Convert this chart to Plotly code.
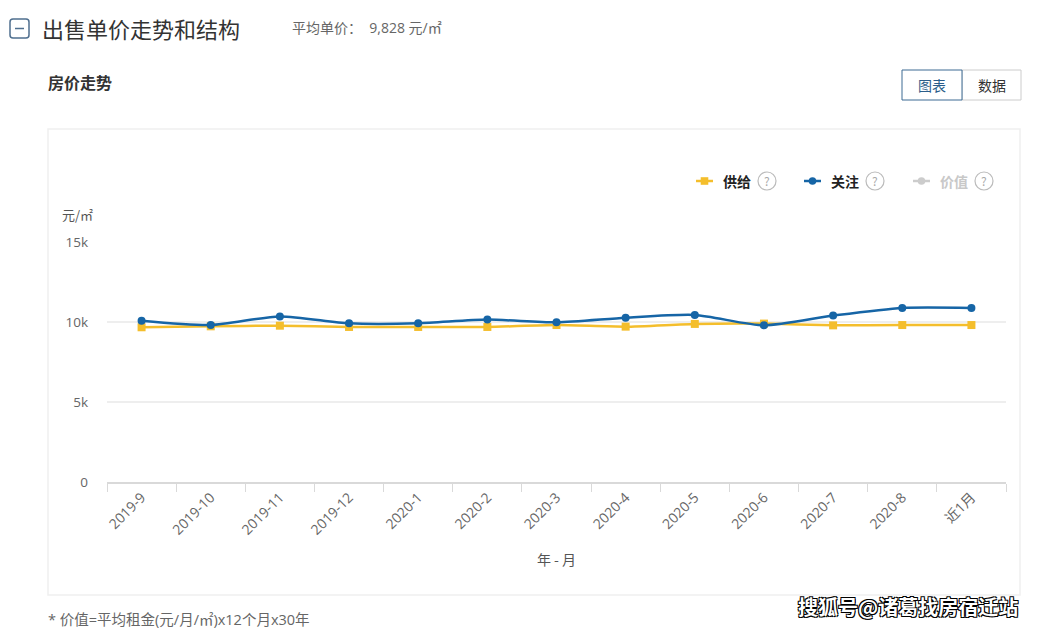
import plotly.graph_objects as go

months = ["2019-9", "2019-10", "2019-11", "2019-12", "2020-1", "2020-2", "2020-3",
          "2020-4", "2020-5", "2020-6", "2020-7", "2020-8", "近1月"]
supply = [9670, 9730, 9770, 9690, 9690, 9690, 9810, 9710, 9880, 9900, 9790, 9810, 9810]
attention = [10080, 9810, 10350, 9920, 9920, 10150, 9980, 10270, 10440, 9790, 10400, 10880, 10880]
series_names = ["供给", "关注", "价值"]
y_ticks = [0, 5000, 10000, 15000]
y_tick_text = ["0", "5k", "10k", "15k"]

W, H = 1041, 628
L, R, T, B = 107, 1006, 242, 482
FONT = "Noto Sans CJK SC, Noto Sans, sans-serif"
LFONT = "Open Sans, Noto Sans CJK SC, sans-serif"
YELLOW = "#F4BE2C"
BLUE = "#1665A6"
GRAY = "#cccccc"


def px(x):
    return (x - L) / (R - L)


def py(y):
    return (B - y) / (B - T)


fig = go.Figure()
fig.add_trace(go.Scatter(x=months, y=supply, name=series_names[0], mode="lines+markers",
                         line=dict(color=YELLOW, width=2.5, shape="spline", smoothing=0.6),
                         marker=dict(symbol="square", size=8, color=YELLOW)))
fig.add_trace(go.Scatter(x=months, y=attention, name=series_names[1], mode="lines+markers",
                         line=dict(color=BLUE, width=2.5, shape="spline", smoothing=0.7),
                         marker=dict(symbol="circle", size=8, color=BLUE)))

fig.update_layout(
    width=W, height=H,
    margin=dict(l=L, r=W - R, t=T, b=H - B),
    paper_bgcolor="white", plot_bgcolor="white",
    font=dict(family=FONT, color="#666", size=12),
    showlegend=False,
    xaxis=dict(type="category", categoryorder="array", categoryarray=months,
               showgrid=False, showline=True, linecolor="#d9d9d9", linewidth=1.5,
               ticks="outside", tickson="boundaries", ticklen=8, tickcolor="#d9d9d9",
               tickangle=-45, tickfont=dict(family=LFONT, size=14, color="#666"),
               title=dict(text="年 - 月", standoff=18, font=dict(size=14, color="#555")),
               range=[-0.5, len(months) - 0.5], fixedrange=True),
    yaxis=dict(range=[0, 15000], tickvals=y_ticks, ticktext=y_tick_text,
               showgrid=True, gridcolor="#eeeeee", gridwidth=1.5, zeroline=False,
               showline=False, ticks="", ticklabelstandoff=18,
               tickfont=dict(family=LFONT, size=13.5, color="#666"), fixedrange=True),
)

annotations = [
    dict(x=px(40), y=py(28), text="出售单价走势和结构", xanchor="left", yanchor="middle",
         font=dict(size=22, color="#333")),
    dict(x=px(290), y=py(27), text="平均单价：  9,828 元/㎡", xanchor="left", yanchor="middle",
         font=dict(family=LFONT, size=14, color="#666")),
    dict(x=px(46), y=py(82), text="<b>房价走势</b>", xanchor="left", yanchor="middle",
         font=dict(size=16, color="#333")),
    dict(x=px(932), y=py(85), text="图表", xanchor="center", yanchor="middle",
         font=dict(size=14, color="#2a5d8a")),
    dict(x=px(991.5), y=py(85), text="数据", xanchor="center", yanchor="middle",
         font=dict(size=14, color="#333")),
    dict(x=px(60), y=py(214), text="元/㎡", xanchor="left", yanchor="middle",
         font=dict(size=13, color="#555")),
    dict(x=px(46), y=py(619), text="* 价值=平均租金(元/月/㎡)x12个月x30年", xanchor="left",
         yanchor="middle", font=dict(family=LFONT, size=14.5, color="#666")),
    dict(x=px(1020), y=py(606), text="<b>搜狐号@诸葛找房宿迁站</b>", xanchor="right",
         yanchor="middle",
         font=dict(size=20, color="white",
                   shadow="1px 1px 0 #000, -1px -1px 0 #000, 1px -1px 0 #000, -1px 1px 0 #000")),
]

shapes = [
    # card
    dict(type="rect", x0=px(48), x1=px(1020), y0=py(129), y1=py(595),
         line=dict(color="#f0f0f0", width=1.5), fillcolor="rgba(0,0,0,0)", layer="below"),
    # buttons
    dict(type="rect", x0=px(962), x1=px(1021), y0=py(70), y1=py(100),
         line=dict(color="#cccccc", width=1), fillcolor="white"),
    dict(type="rect", x0=px(902), x1=px(962), y0=py(70), y1=py(100),
         line=dict(color="#3d6a93", width=1), fillcolor="white"),
    # header icon (rounded square)
    dict(type="path",
         path=(f"M {px(13)},{py(19)} L {px(26)},{py(19)} Q {px(29)},{py(19)} {px(29)},{py(22)} "
               f"L {px(29)},{py(35)} Q {px(29)},{py(38)} {px(26)},{py(38)} "
               f"L {px(13)},{py(38)} Q {px(10)},{py(38)} {px(10)},{py(35)} "
               f"L {px(10)},{py(22)} Q {px(10)},{py(19)} {px(13)},{py(19)} Z"),
         line=dict(color="#4f6f8f", width=1.5), fillcolor="white"),
    dict(type="line", x0=px(15), x1=px(24), y0=py(28.5), y1=py(28.5),
         line=dict(color="#4f6f8f", width=1.5)),
]

# custom legend
legend_items = [
    (series_names[0], YELLOW, "rect", 696, "#222"),
    (series_names[1], BLUE, "circle", 804, "#222"),
    (series_names[2], GRAY, "circle", 913, "#c8c8c8"),
]
LY = 181
for name, color, sym, x0, tcolor in legend_items:
    shapes.append(dict(type="line", x0=px(x0), x1=px(x0 + 17), y0=py(LY), y1=py(LY),
                       line=dict(color=color, width=2.5)))
    cx = x0 + 8.5
    r = 3.8
    shapes.append(dict(type=sym, x0=px(cx - r), x1=px(cx + r), y0=py(LY - r), y1=py(LY + r),
                       line=dict(color=color, width=0), fillcolor=color))
    annotations.append(dict(x=px(x0 + 25), y=py(LY), text="<b>" + name + "</b>",
                            xanchor="left", yanchor="middle",
                            font=dict(size=14, color=tcolor)))
    qx = x0 + 71
    shapes.append(dict(type="circle", x0=px(qx - 9), x1=px(qx + 9),
                       y0=py(LY - 9), y1=py(LY + 9), line=dict(color="#bbb", width=1.2)))
    annotations.append(dict(x=px(qx), y=py(LY - 0.5), text="?", xanchor="center",
                            yanchor="middle", font=dict(size=12, color="#aaa")))

for a in annotations:
    a.update(xref="paper", yref="paper", showarrow=False)
for s in shapes:
    s.update(xref="paper", yref="paper")

fig.update_layout(annotations=annotations, shapes=shapes)
fig.write_html("out.html", config={"displayModeBar": False})
